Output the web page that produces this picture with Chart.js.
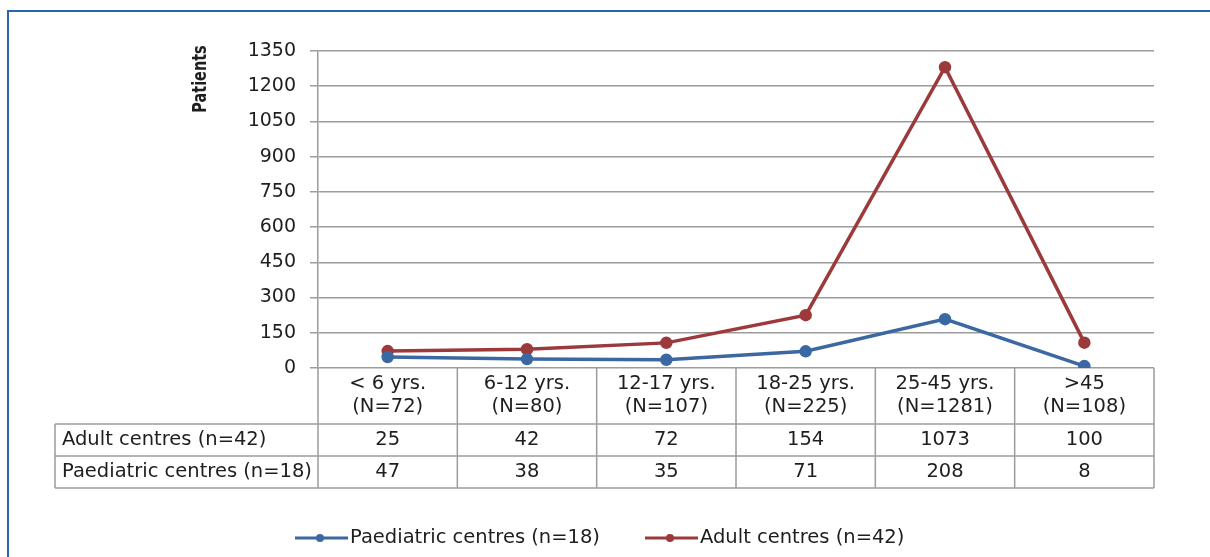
<!DOCTYPE html>
<html>
<head>
<meta charset="utf-8">
<script src="https://cdn.jsdelivr.net/npm/chart.js@4.4.1/dist/chart.umd.min.js"></script>
<style>
  html, body { margin: 0; padding: 0; background: #fff; }
  #wrap { width: 1210px; height: 557px; position: relative; }
</style>
</head>
<body>
<div id="wrap"><canvas id="ageChart" width="1210" height="557"></canvas></div>
<script>
const ageGroups = ["< 6 yrs.", "6-12 yrs.", "12-17 yrs.", "18-25 yrs.", "25-45 yrs.", ">45"];
const groupTotals = ["(N=72)", "(N=80)", "(N=107)", "(N=225)", "(N=1281)", "(N=108)"];
const paediatric = [47, 38, 35, 71, 208, 8];
const adult = [25, 42, 72, 154, 1073, 100];
const yTicks = [0, 150, 300, 450, 600, 750, 900, 1050, 1200, 1350];

const paedLabel = "Paediatric centres (n=18)";
const adultLabel = "Adult centres (n=42)";
const blue = "#3b68a2";
const red = "#9c3a3b";
const font = "'DejaVu Sans', sans-serif";
const textColor = "#1e1e1e";
const lineGray = "#9c9c9c";

// data table under the plot + frame + axis title + legend
const tablePlugin = {
  id: "tablePlugin",
  afterDraw(chart) {
    const c = chart.ctx;
    const area = chart.chartArea;
    const xs = chart.scales.x;
    const n = ageGroups.length;
    const edges = [area.left];
    for (let i = 1; i < n; i++) {
      edges.push((xs.getPixelForValue(i - 1) + xs.getPixelForValue(i)) / 2);
    }
    edges.push(area.right);

    const top = area.bottom;
    const headBottom = top + 56;
    const row1 = headBottom + 32;
    const row2 = row1 + 32;
    const rowLeft = 55;

    c.save();
    c.strokeStyle = lineGray;
    c.lineWidth = 1.5;
    c.beginPath();
    edges.forEach(x => { c.moveTo(x, top); c.lineTo(x, row2); });
    c.moveTo(rowLeft, headBottom); c.lineTo(rowLeft, row2);
    [headBottom, row1, row2].forEach(y => { c.moveTo(rowLeft, y); c.lineTo(area.right, y); });
    c.stroke();

    c.fillStyle = textColor;
    c.font = "19.5px " + font;
    c.textAlign = "center";
    c.textBaseline = "middle";
    for (let i = 0; i < n; i++) {
      const cx = (edges[i] + edges[i + 1]) / 2;
      c.fillText(ageGroups[i], cx, top + 16);
      c.fillText(groupTotals[i], cx, top + 39);
      c.fillText(String(adult[i]), cx, headBottom + 16);
      c.fillText(String(paediatric[i]), cx, row1 + 16);
    }
    c.textAlign = "left";
    c.fillText(adultLabel, rowLeft + 7, headBottom + 16);
    c.fillText(paedLabel, rowLeft + 7, row1 + 16);

    // axis title
    c.save();
    c.translate(201, 79);
    c.rotate(-Math.PI / 2);
    c.scale(0.76, 1);
    c.font = "bold 19px " + font;
    c.textAlign = "center";
    c.fillText("Patients", 0, 0);
    c.restore();

    // legend
    const legendY = 538;
    const items = [
      { label: paedLabel, color: blue, x: 295 },
      { label: adultLabel, color: red, x: 645 }
    ];
    c.font = "19.5px " + font;
    items.forEach(it => {
      c.strokeStyle = it.color;
      c.lineWidth = 3;
      c.beginPath();
      c.moveTo(it.x, legendY);
      c.lineTo(it.x + 53, legendY);
      c.stroke();
      c.fillStyle = it.color;
      c.beginPath();
      c.arc(it.x + 25, legendY, 4, 0, Math.PI * 2);
      c.fill();
      c.fillStyle = textColor;
      c.fillText(it.label, it.x + 55, legendY);
    });

    // frame
    c.strokeStyle = "#2a66b0";
    c.lineWidth = 2;
    c.beginPath();
    c.moveTo(8, 557);
    c.lineTo(8, 11);
    c.lineTo(1210, 11);
    c.stroke();
    c.restore();
  }
};

const chart = new Chart(document.getElementById("ageChart"), {
  type: "line",
  data: {
    labels: ageGroups,
    datasets: [
      {
        label: paedLabel,
        data: paediatric,
        borderColor: blue,
        backgroundColor: blue,
        borderWidth: 3.5,
        pointRadius: 4.5,
        fill: false,
        tension: 0
      },
      {
        label: adultLabel,
        data: adult,
        borderColor: red,
        backgroundColor: red,
        borderWidth: 3.5,
        pointRadius: 4.5,
        fill: false,
        tension: 0
      }
    ]
  },
  options: {
    responsive: false,
    animation: false,
    layout: { padding: { left: 0, right: 56, top: 51, bottom: 189 } },
    plugins: {
      legend: { display: false },
      tooltip: { enabled: false }
    },
    scales: {
      x: {
        display: false,
        offset: true
      },
      y: {
        stacked: true,
        min: 0,
        max: 1350,
        afterFit: s => { s.width = 318; },
        afterBuildTicks: s => { s.ticks = yTicks.map(v => ({ value: v })); },
        ticks: {
          color: textColor,
          font: { family: font, size: 19 },
          padding: 14,
          callback: v => String(v)
        },
        grid: {
          color: lineGray,
          lineWidth: 1.5,
          tickLength: 8
        },
        border: { color: lineGray, width: 1.5 }
      }
    }
  },
  plugins: [tablePlugin]
});
</script>
</body>
</html>
